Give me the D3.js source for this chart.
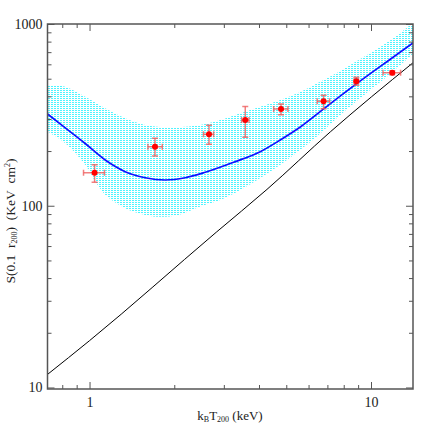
<!DOCTYPE html>
<html><head><meta charset="utf-8">
<script src="https://cdn.jsdelivr.net/npm/d3@7/dist/d3.min.js"></script>
<style>body{margin:0;background:#fff}</style>
</head><body>
<svg id="chart" width="436" height="436"></svg>
<script>
// ---- data ----
const upperT = [0.709, 0.82, 0.965, 1.137, 1.339, 1.577, 1.858, 2.188, 2.474, 2.914, 3.432, 4.042, 4.761, 5.609, 6.603, 7.779, 9.16, 10.79, 12.71, 14.1];
const upperS = [462, 452, 398, 344, 303, 278, 270, 272, 278, 296, 323, 351, 382, 423, 481, 551, 642, 747, 892, 1020];
const lowerT = [0.709, 0.82, 0.965, 1.048, 1.137, 1.339, 1.577, 1.759, 2.072, 2.474, 2.914, 3.432, 4.042, 4.761, 5.609, 6.603, 7.779, 9.94, 11.71, 14.1];
const lowerS = [256, 221, 168, 136, 115, 97, 89, 87, 89, 99, 107.5, 122, 142, 168, 203, 250, 316, 434, 531, 685];
const modelT = [0.709, 0.82, 0.965, 1.137, 1.339, 1.577, 1.858, 2.188, 2.577, 3.249, 4.042, 4.761, 5.609, 6.77, 8.87, 11.71, 14.14];
const modelS = [320, 268, 220, 178.5, 154, 142.6, 138.6, 142.6, 152.8, 173.4, 198.4, 230, 271, 340, 468, 640, 790];
const baseT = [0.709, 1, 2.82, 4.27, 7.17, 14.1];
const baseS = [11.8, 18.1, 71.5, 123, 255, 612];
const obsT   = [1.042, 1.708, 2.657, 3.575, 4.79, 6.785, 8.87, 11.9];
const obsTlo = [0.952, 1.612, 2.54, 3.47, 4.51, 6.44, 8.70, 11.03];
const obsThi = [1.130, 1.813, 2.76, 3.685, 5.07, 7.13, 9.03, 12.74];
const obsS   = [152, 211, 247, 296, 341, 376, 484, 540];
const obsSlo = [134.6, 188, 218, 238, 317, 342, 460, 526];
const obsShi = [168, 235, 277, 352, 363, 405, 509, 553];
const xMajorTicks = [1, 10];
const xMinorTicks = [0.8, 0.9, 2, 3, 4, 5, 6, 7, 8, 9];
const yMajorTicks = [10, 100, 1000];
const yMinorTicks = [20, 30, 40, 50, 60, 70, 80, 90, 200, 300, 400, 500, 600, 700, 800, 900];
const xDomain = [0.709, 14.1];
const yDomain = [9.81, 1000];

// ---- layout ----
const L = 47.5, R = 413, T = 24, B = 389;
const svg = d3.select("#chart");
const x = d3.scaleLog().domain(xDomain).range([L, R]);
const y = d3.scaleLog().domain(yDomain).range([B, T]);
const axisColor = "#555";
const fontFam = "'Liberation Serif', 'DejaVu Serif', serif";

const defs = svg.append("defs");
defs.append("clipPath").attr("id", "clip").append("rect")
  .attr("x", L).attr("y", T).attr("width", R - L).attr("height", B - T);
const pat = defs.append("pattern").attr("id", "dots").attr("patternUnits", "userSpaceOnUse")
  .attr("width", 3).attr("height", 2);
pat.append("rect").attr("x", 0).attr("y", 0).attr("width", 2).attr("height", 1).attr("fill", "#30f2ff").attr("fill-opacity", 0.85);

const plot = svg.append("g").attr("clip-path", "url(#clip)");

// band
const bandGen = d3.line().x(d => x(d[0])).y(d => y(d[1])).curve(d3.curveCatmullRom.alpha(0.5));
const up = upperT.map((t, i) => [t, upperS[i]]);
const lo = lowerT.map((t, i) => [t, lowerS[i]]).reverse();
const bandPath = bandGen(up) + "L" + bandGen(lo).slice(1) + "Z";
plot.append("path").attr("d", bandPath).attr("fill", "url(#dots)").attr("stroke", "none");

const lineGen = d3.line().x(d => x(d[0])).y(d => y(d[1])).curve(d3.curveMonotoneX);
// model curve
plot.append("path").attr("d", lineGen(modelT.map((t, i) => [t, modelS[i]])))
  .attr("fill", "none").attr("stroke", "#1010ff").attr("stroke-width", 1.7);
// baseline
plot.append("path").attr("d", lineGen(baseT.map((t, i) => [t, baseS[i]])))
  .attr("fill", "none").attr("stroke", "#000").attr("stroke-width", 1);

// error bars
const eb = plot.append("g").attr("stroke", "#ee5555").attr("stroke-opacity", 0.75).attr("stroke-width", 1.5);
obsT.forEach((t, i) => {
  const cx = x(t), cy = y(obsS[i]);
  const x0 = x(obsTlo[i]), x1 = x(obsThi[i]);
  const y0 = y(obsSlo[i]), y1 = y(obsShi[i]);
  eb.append("line").attr("x1", x0).attr("x2", x1).attr("y1", cy).attr("y2", cy);
  eb.append("line").attr("x1", x0).attr("x2", x0).attr("y1", cy - 3).attr("y2", cy + 3);
  eb.append("line").attr("x1", x1).attr("x2", x1).attr("y1", cy - 3).attr("y2", cy + 3);
  eb.append("line").attr("x1", cx).attr("x2", cx).attr("y1", y0).attr("y2", y1);
  eb.append("line").attr("x1", cx - 3).attr("x2", cx + 3).attr("y1", y0).attr("y2", y0);
  eb.append("line").attr("x1", cx - 3).attr("x2", cx + 3).attr("y1", y1).attr("y2", y1);
});
plot.append("g").selectAll("circle").data(obsT).join("circle")
  .attr("cx", d => x(d)).attr("cy", (d, i) => y(obsS[i])).attr("r", 3).attr("fill", "#ff0000");

// axes
function styleAxis(g) {
  g.select(".domain").remove();
  g.selectAll("line").attr("stroke", axisColor).attr("stroke-width", 1);
  g.selectAll("text").attr("font-family", fontFam).attr("font-size", 14).attr("fill", "#222");
}
const fmt = d3.format("d");
svg.append("g").attr("transform", `translate(0,${B})`)
  .call(d3.axisBottom(x).tickValues(xMajorTicks).tickSize(-7).tickSizeOuter(0).tickPadding(8).tickFormat(fmt)).call(styleAxis);
svg.append("g").attr("transform", `translate(0,${B})`)
  .call(d3.axisBottom(x).tickValues(xMinorTicks).tickSize(-4).tickSizeOuter(0).tickFormat("")).call(styleAxis);
svg.append("g").attr("transform", `translate(0,${T})`)
  .call(d3.axisTop(x).tickValues(xMajorTicks).tickSize(-7).tickSizeOuter(0).tickFormat("")).call(styleAxis);
svg.append("g").attr("transform", `translate(0,${T})`)
  .call(d3.axisTop(x).tickValues(xMinorTicks).tickSize(-4).tickSizeOuter(0).tickFormat("")).call(styleAxis);
svg.append("g").attr("transform", `translate(${L},0)`)
  .call(d3.axisLeft(y).tickValues(yMajorTicks).tickSize(-7).tickSizeOuter(0).tickPadding(5).tickFormat(fmt)).call(styleAxis);
svg.append("g").attr("transform", `translate(${L},0)`)
  .call(d3.axisLeft(y).tickValues(yMinorTicks).tickSize(-4).tickSizeOuter(0).tickFormat("")).call(styleAxis);
svg.append("g").attr("transform", `translate(${R},0)`)
  .call(d3.axisRight(y).tickValues(yMajorTicks).tickSize(-7).tickSizeOuter(0).tickFormat("")).call(styleAxis);
svg.append("g").attr("transform", `translate(${R},0)`)
  .call(d3.axisRight(y).tickValues(yMinorTicks).tickSize(-4).tickSizeOuter(0).tickFormat("")).call(styleAxis);

// frame
svg.append("rect").attr("x", L).attr("y", T).attr("width", R - L).attr("height", B - T)
  .attr("fill", "none").attr("stroke", axisColor).attr("stroke-width", 1.5);

// titles
const xt = svg.append("text").attr("x", 230).attr("y", 420).attr("text-anchor", "middle")
  .attr("font-family", fontFam).attr("font-size", 13).attr("fill", "#222");
xt.append("tspan").text("k");
xt.append("tspan").attr("font-size", 8).attr("dy", 2).text("B");
xt.append("tspan").attr("dy", -2).text("T");
xt.append("tspan").attr("font-size", 8).attr("dy", 2).text("200");
xt.append("tspan").attr("dy", -2).text(" (keV)");

const yt = svg.append("text").attr("transform", "translate(15,221) rotate(-90)").attr("text-anchor", "middle")
  .attr("font-family", fontFam).attr("font-size", 13.5).attr("fill", "#222");
yt.append("tspan").text("S(0.1\u00a0\u00a0r");
yt.append("tspan").attr("font-size", 8).attr("dy", 2).text("200");
yt.append("tspan").attr("dy", -2).text(")\u00a0\u00a0(KeV\u00a0\u00a0cm");
yt.append("tspan").attr("font-size", 8).attr("dy", -5).text("2");
yt.append("tspan").attr("dy", 5).text(")");
</script>
</body></html>
